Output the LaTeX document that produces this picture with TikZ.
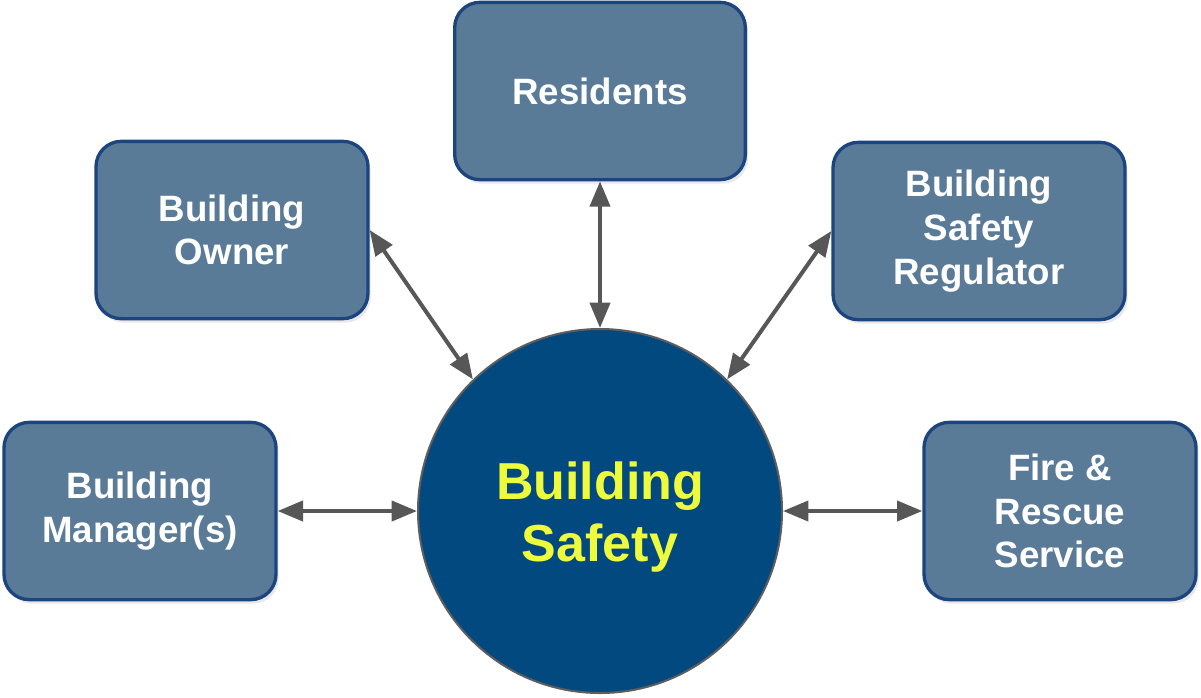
\documentclass[tikz,border=0pt]{standalone}
\usepackage{fontspec}
\setmainfont{Liberation Sans}
\usetikzlibrary{arrows.meta,shadows}

\definecolor{boxfill}{HTML}{5A7B98}
\definecolor{boxline}{HTML}{1C4580}
\definecolor{hubfill}{HTML}{02497F}
\definecolor{hubline}{HTML}{5E5E5E}
\definecolor{hubtext}{HTML}{EEFB3C}
\definecolor{linkgray}{HTML}{575757}

\tikzset{
  party/.style={rectangle, rounded corners=19pt, draw=boxline, line width=2.5pt, fill=boxfill,
    minimum height=133pt, align=center, text=white,
    font=\fontsize{27.5}{32.8}\selectfont\bfseries,
    drop shadow={shadow xshift=2pt, shadow yshift=-3pt, opacity=0.18}},
  link/.style={draw=linkgray, line width=3pt,
    {Triangle[length=19pt,width=15pt]}-{Triangle[length=19pt,width=15pt]}}
}

\begin{document}
\begin{tikzpicture}[x=0.75pt,y=-0.75pt]
  \useasboundingbox (0,0) rectangle (1201,697);

  % CENTRE
  \node [circle, draw=hubline, line width=1.5pt, fill=hubfill, minimum size=273pt, inner sep=0pt] (safety) at (600,511) {};
  \node [align=center, text=hubtext, font=\fontsize{39}{46.5}\selectfont\bfseries] (safetytext) at (600,517) {Building\\Safety};

  %TOP
  \node [party, minimum width=218pt] (residents) at (600,91) {Residents};
  \draw [link] (residents.south) -- (safety.north);

  %MIDDLE
  \node [party, minimum width=204pt] (owner) at (232,230) {Building\\Owner};
  \draw [link] (owner.east) -- (safety.134);

  \node [party, minimum width=219pt] (regulator) at (979,231) {Building\\Safety\\Regulator};
  \draw [link] (regulator.west) -- (safety.46);

  % BOTTOM
  \node [party, minimum width=204pt] (manager) at (140,511) {Building\\Manager(s)};
  \draw [link] (manager.east) -- (safety.west);

  \node [party, minimum width=204pt] (fire) at (1060,511) {Fire \&\\Rescue\\Service};
  \draw [link] (safety.east) -- (fire.west);

\end{tikzpicture}
\end{document}
